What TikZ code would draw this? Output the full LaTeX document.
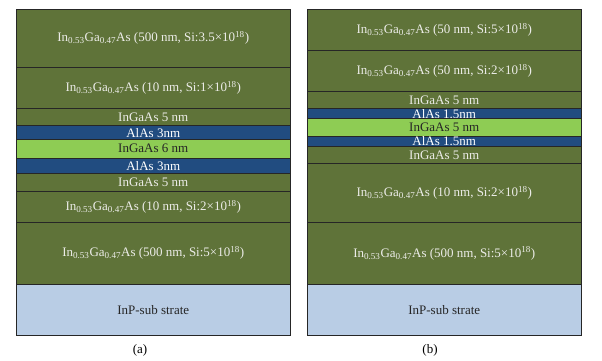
\documentclass[tikz,border=0pt]{standalone}
\usepackage{fontspec}
\setmainfont{Liberation Serif}
\usetikzlibrary{positioning}
\definecolor{olivefill}{RGB}{95,115,57}
\definecolor{alasfill}{RGB}{33,76,128}
\definecolor{wellfill}{RGB}{142,204,84}
\definecolor{subfill}{RGB}{185,205,229}
\definecolor{paletext}{RGB}{236,236,232}
\newcommand{\alloy}{In\textsubscript{0.53}Ga\textsubscript{0.47}As}
\tikzset{
  layer/.style={draw=black!85, line width=0.8pt, minimum width=273.5pt,
    inner xsep=2pt, inner ysep=0pt, outer sep=0pt,
    font=\fontsize{13}{15}\selectfont},
  barrier/.style={layer, fill=olivefill, text=paletext},
  alas/.style={layer, fill=alasfill, text=white},
  well/.style={layer, fill=wellfill, text=black!85},
  substrate/.style={layer, fill=subfill, text=black!85},
  caption/.style={font=\fontsize{13}{15}\selectfont}
}
\begin{document}
\begin{tikzpicture}[x=1pt,y=-1pt]
  \useasboundingbox (0,0) rectangle (602,361);
  % (a)
  \node[barrier, minimum height=58.3pt, anchor=north west] (a1) at (16.5,9)
    {\alloy{} (500 nm, Si:3.5×10\textsuperscript{18})};
  \node[barrier, minimum height=41pt, below=0pt of a1] (a2)
    {\alloy{} (10 nm, Si:1×10\textsuperscript{18})};
  \node[barrier, minimum height=17.4pt, below=0pt of a2] (a3) {InGaAs 5 nm};
  \node[alas, minimum height=13.8pt, below=0pt of a3] (a4) {AlAs 3nm};
  \node[well, minimum height=18.5pt, below=0pt of a4] (a5) {InGaAs 6 nm};
  \node[alas, minimum height=15.3pt, below=0pt of a5] (a6) {AlAs 3nm};
  \node[barrier, minimum height=18pt, below=0pt of a6] (a7) {InGaAs 5 nm};
  \node[barrier, minimum height=30.7pt, below=0pt of a7] (a8)
    {\alloy{} (10 nm, Si:2×10\textsuperscript{18})};
  \node[barrier, minimum height=62pt, below=0pt of a8] (a9)
    {\alloy{} (500 nm, Si:5×10\textsuperscript{18})};
  \node[substrate, minimum height=51.7pt, below=0pt of a9] (a10) {InP-sub strate};
  \node[caption] (capa) at (140,350) {(a)};
  % (b)
  \node[barrier, minimum height=41.7pt, anchor=north west] (b1) at (307.5,9)
    {\alloy{} (50 nm, Si:5×10\textsuperscript{18})};
  \node[barrier, minimum height=40.6pt, below=0pt of b1] (b2)
    {\alloy{} (50 nm, Si:2×10\textsuperscript{18})};
  \node[barrier, minimum height=17.4pt, below=0pt of b2] (b3) {InGaAs 5 nm};
  \node[alas, minimum height=9.8pt, below=0pt of b3] (b4) {AlAs 1.5nm};
  \node[well, minimum height=17.5pt, below=0pt of b4] (b5) {InGaAs 5 nm};
  \node[alas, minimum height=10.7pt, below=0pt of b5] (b6) {AlAs 1.5nm};
  \node[barrier, minimum height=17pt, below=0pt of b6] (b7) {InGaAs 5 nm};
  \node[barrier, minimum height=58.6pt, below=0pt of b7] (b8)
    {\alloy{} (10 nm, Si:2×10\textsuperscript{18})};
  \node[barrier, minimum height=62pt, below=0pt of b8] (b9)
    {\alloy{} (500 nm, Si:5×10\textsuperscript{18})};
  \node[substrate, minimum height=51.4pt, below=0pt of b9] (b10) {InP-sub strate};
  \node[caption] (capb) at (430,350) {(b)};
\end{tikzpicture}
\end{document}
